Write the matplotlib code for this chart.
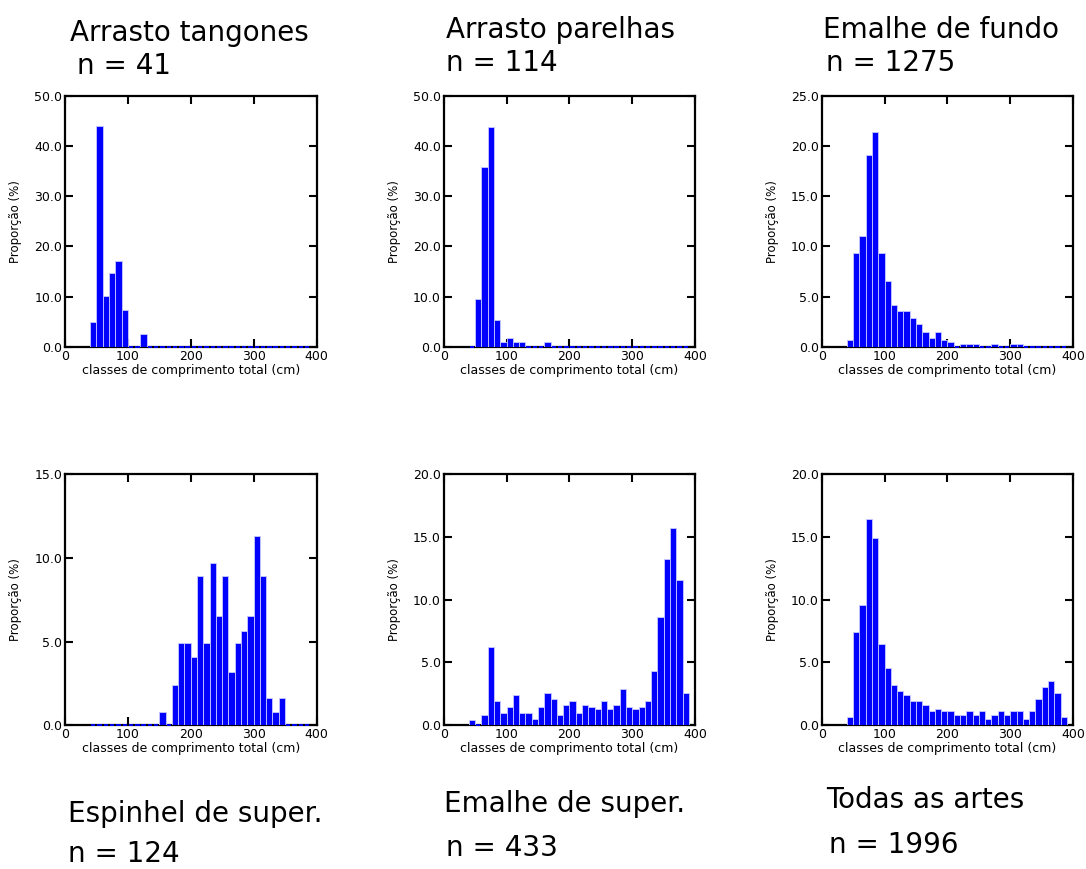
import numpy as np
import matplotlib.pyplot as plt
from matplotlib.ticker import FormatStrFormatter

# length classes (cm), bin centres 45..385
classes = np.arange(45, 390, 10)

tangones = [4.9, 43.9, 10.1, 14.8, 17.2, 7.3, 0, 0, 2.5, 0,
            0, 0, 0, 0, 0, 0, 0, 0, 0, 0,
            0, 0, 0, 0, 0, 0, 0, 0, 0, 0,
            0, 0, 0, 0, 0]
parelhas = [0, 9.6, 35.9, 43.8, 5.3, 1.0, 1.8, 1.0, 1.0, 0,
            0, 0, 1.0, 0, 0, 0, 0, 0, 0, 0,
            0, 0, 0, 0, 0, 0, 0, 0, 0, 0,
            0, 0, 0, 0, 0]
emalhe_fundo = [0.66, 9.4, 11.0, 19.1, 21.4, 9.4, 6.6, 4.2, 3.6, 3.6,
                2.85, 2.25, 1.45, 0.85, 1.45, 0.66, 0.46, 0, 0.25, 0.25,
                0.25, 0, 0, 0.25, 0, 0, 0.25, 0.25, 0, 0,
                0, 0, 0, 0, 0]
espinhel = [0, 0, 0, 0, 0, 0, 0, 0, 0, 0,
            0, 0.8, 0, 2.4, 4.9, 4.9, 4.1, 8.9, 4.9, 9.7,
            6.5, 8.9, 3.2, 4.9, 5.6, 6.5, 11.3, 8.9, 1.6, 0.8,
            1.6, 0, 0, 0, 0]
emalhe_super = [0.4, 0, 0.85, 6.2, 1.95, 1.0, 1.45, 2.4, 1.0, 1.0,
                0.5, 1.45, 2.6, 2.1, 0.85, 1.6, 1.95, 1.0, 1.6, 1.45,
                1.3, 1.95, 1.3, 1.6, 2.9, 1.45, 1.3, 1.45, 1.95, 4.3,
                8.6, 13.2, 15.7, 11.6, 2.6]
todas = [0.7, 7.45, 9.6, 16.4, 14.9, 6.5, 4.6, 3.2, 2.7, 2.4,
         1.95, 1.95, 1.6, 1.15, 1.3, 1.15, 1.15, 0.85, 0.85, 1.15,
         0.85, 1.15, 0.5, 0.85, 1.15, 0.85, 1.15, 1.15, 0.5, 1.15,
         2.1, 3.05, 3.5, 2.6, 0.7]

series = [tangones, parelhas, emalhe_fundo, espinhel, emalhe_super, todas]
titles = ['Arrasto tangones', 'Arrasto parelhas', 'Emalhe de fundo',
          'Espinhel de super.', 'Emalhe de super.', 'Todas as artes']
counts = ['n = 41', 'n = 114', 'n = 1275', 'n = 124', 'n = 433', 'n = 1996']
ymax = [50, 50, 25, 15, 20, 20]
ystep = [10, 10, 5, 5, 5, 5]

W, H = 1086, 869
fig = plt.figure(figsize=(W / 100, H / 100), dpi=100)

lefts = [65, 443.7, 821.7]
tops = [95.7, 474]
aw, ah = 251.5, 251.3

# title positions (left x, baseline y) in pixels from top-left
title_pos = [(70, 41), (446, 38), (823, 38), (68, 822), (444, 812), (826, 808)]
count_pos = [(77, 74), (446, 71), (826, 71), (68, 862), (446, 856), (829, 853)]

for i, vals in enumerate(series):
    r, c = divmod(i, 3)
    ax = fig.add_axes([lefts[c] / W, 1 - (tops[r] + ah) / H, aw / W, ah / H])
    vals = np.array(vals)
    ax.bar(classes, vals, width=10, color='#0000ff', edgecolor='#c8c8ff',
           linewidth=0.6, zorder=3)
    # empty classes show as short dashes on the baseline
    zero = vals == 0
    ax.bar(classes[zero], vals[zero], width=7, color='#0000ff', edgecolor='#0000ff',
           linewidth=1.3, zorder=4, clip_on=False)
    ax.set_xlim(0, 400)
    ax.set_ylim(0, ymax[i])
    ax.set_xticks([0, 100, 200, 300, 400])
    ax.set_yticks(np.arange(0, ymax[i] + 0.01, ystep[i]))
    ax.yaxis.set_major_formatter(FormatStrFormatter('%.1f'))
    ax.tick_params(direction='in', top=True, right=True, length=6, width=1.5,
                   labelsize=9, pad=2)
    for s in ax.spines.values():
        s.set_linewidth(1.6)
    ax.set_xlabel('classes de comprimento total (cm)', fontsize=9, labelpad=1)
    ax.set_ylabel('Proporção (%)', fontsize=8.5)
    ax.yaxis.set_label_coords(-0.17, 0.5)

    tx, ty = title_pos[i]
    fig.text(tx / W, 1 - ty / H, titles[i], fontsize=20, va='baseline', ha='left')
    nx, ny = count_pos[i]
    fig.text(nx / W, 1 - ny / H, counts[i], fontsize=20, va='baseline', ha='left')

fig.savefig('out.png', dpi=100)
